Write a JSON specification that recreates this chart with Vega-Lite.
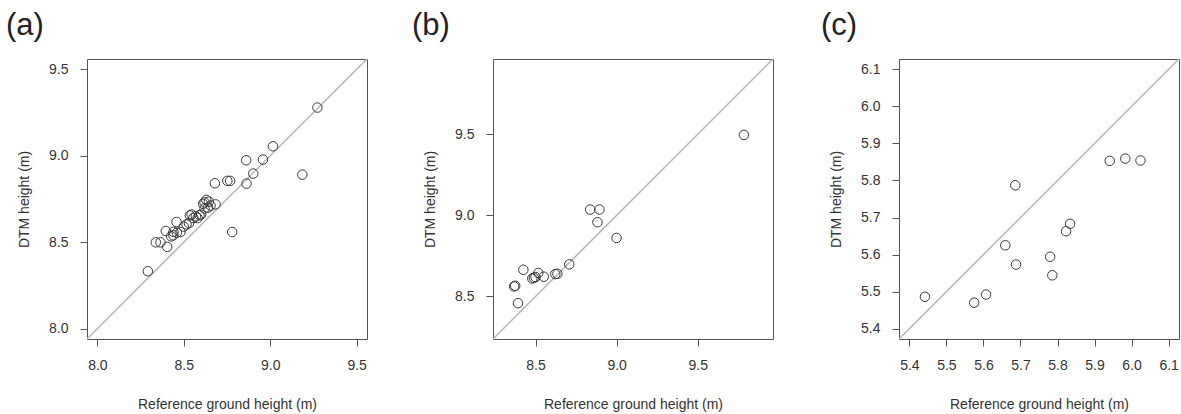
{
  "$schema": "https://vega.github.io/schema/vega-lite/v6.json",
  "autosize": {"type": "pad"},
  "padding": {"left": 5, "top": 9, "right": 0, "bottom": 0},
  "background": "white",
  "bounds": "flush",
  "spacing": 126,
  "config": {
    "font": "Liberation Sans",
    "view": {"stroke": "#555555", "strokeWidth": 1},
    "axis": {
      "domain": false,
      "grid": false,
      "tickSize": 7,
      "tickCount": 12,
      "tickColor": "#555555",
      "tickWidth": 1,
      "labelFontSize": 14,
      "titleFontSize": 14,
      "titleFontWeight": "normal",
      "labelColor": "#333333",
      "titleColor": "#333333",
      "labelPadding": 12,
      "labelFlush": false,
      "labelOverlap": false
    },
    "axisX": {"titlePadding": 25},
    "axisY": {"titlePadding": 17},
    "title": {"fontSize": 31, "fontWeight": "normal", "color": "#222222", "anchor": "start", "frame": "group", "offset": 17}
  },
  "datasets": {
    "a_pts": [
      {"ref": 9.273, "dtm": 9.279}, {"ref": 9.016, "dtm": 9.055}, {"ref": 8.958, "dtm": 8.978},
      {"ref": 8.861, "dtm": 8.974}, {"ref": 8.902, "dtm": 8.897}, {"ref": 9.186, "dtm": 8.891},
      {"ref": 8.863, "dtm": 8.839}, {"ref": 8.752, "dtm": 8.855}, {"ref": 8.768, "dtm": 8.855},
      {"ref": 8.680, "dtm": 8.841}, {"ref": 8.684, "dtm": 8.719}, {"ref": 8.780, "dtm": 8.559},
      {"ref": 8.292, "dtm": 8.332}, {"ref": 8.620, "dtm": 8.730}, {"ref": 8.630, "dtm": 8.745},
      {"ref": 8.612, "dtm": 8.722}, {"ref": 8.645, "dtm": 8.735}, {"ref": 8.655, "dtm": 8.712},
      {"ref": 8.640, "dtm": 8.700}, {"ref": 8.600, "dtm": 8.660}, {"ref": 8.591, "dtm": 8.656},
      {"ref": 8.570, "dtm": 8.650}, {"ref": 8.555, "dtm": 8.640}, {"ref": 8.545, "dtm": 8.660},
      {"ref": 8.535, "dtm": 8.655}, {"ref": 8.580, "dtm": 8.640}, {"ref": 8.516, "dtm": 8.603},
      {"ref": 8.530, "dtm": 8.610}, {"ref": 8.458, "dtm": 8.617}, {"ref": 8.481, "dtm": 8.559},
      {"ref": 8.440, "dtm": 8.560}, {"ref": 8.460, "dtm": 8.555}, {"ref": 8.396, "dtm": 8.565},
      {"ref": 8.427, "dtm": 8.534}, {"ref": 8.440, "dtm": 8.540}, {"ref": 8.338, "dtm": 8.499},
      {"ref": 8.365, "dtm": 8.499}, {"ref": 8.404, "dtm": 8.473}, {"ref": 8.500, "dtm": 8.590},
      {"ref": 8.620, "dtm": 8.695}
    ],
    "a_line": [{"ref": 7.94, "dtm": 7.94}, {"ref": 9.56, "dtm": 9.56}],
    "b_pts": [
      {"ref": 9.785, "dtm": 9.496}, {"ref": 8.837, "dtm": 9.036}, {"ref": 8.894, "dtm": 9.036},
      {"ref": 8.882, "dtm": 8.958}, {"ref": 9.000, "dtm": 8.861}, {"ref": 8.708, "dtm": 8.698},
      {"ref": 8.425, "dtm": 8.665}, {"ref": 8.517, "dtm": 8.645}, {"ref": 8.551, "dtm": 8.622},
      {"ref": 8.480, "dtm": 8.611}, {"ref": 8.490, "dtm": 8.615}, {"ref": 8.500, "dtm": 8.620},
      {"ref": 8.622, "dtm": 8.638}, {"ref": 8.635, "dtm": 8.640}, {"ref": 8.368, "dtm": 8.562},
      {"ref": 8.375, "dtm": 8.566}, {"ref": 8.392, "dtm": 8.459}
    ],
    "b_line": [{"ref": 8.238, "dtm": 8.238}, {"ref": 9.964, "dtm": 9.964}],
    "c_pts": [
      {"ref": 5.442, "dtm": 5.486}, {"ref": 5.575, "dtm": 5.470}, {"ref": 5.607, "dtm": 5.492},
      {"ref": 5.659, "dtm": 5.625}, {"ref": 5.686, "dtm": 5.787}, {"ref": 5.688, "dtm": 5.573},
      {"ref": 5.780, "dtm": 5.594}, {"ref": 5.786, "dtm": 5.544}, {"ref": 5.823, "dtm": 5.663},
      {"ref": 5.834, "dtm": 5.683}, {"ref": 5.941, "dtm": 5.853}, {"ref": 5.983, "dtm": 5.859},
      {"ref": 6.024, "dtm": 5.854}
    ],
    "c_line": [{"ref": 5.372, "dtm": 5.372}, {"ref": 6.128, "dtm": 6.128}]
  },
  "hconcat": [
    {
      "width": 280, "height": 280,
      "title": {"text": "(a)", "dx": -81},
      "layer": [
        {
          "data": {"name": "a_line"},
          "mark": {"type": "line", "color": "#b4b4b4", "strokeWidth": 1.5, "clip": true},
          "encoding": {
            "x": {"field": "ref", "type": "quantitative", "scale": {"domain": [7.94, 9.56], "nice": false, "zero": false},
                  "axis": {"title": "Reference ground height (m)", "values": [8.0, 8.5, 9.0, 9.5], "format": ".1f"}},
            "y": {"field": "dtm", "type": "quantitative", "scale": {"domain": [7.94, 9.56], "nice": false, "zero": false},
                  "axis": {"title": "DTM height (m)", "values": [8.0, 8.5, 9.0, 9.5], "format": ".1f"}}
          }
        },
        {
          "data": {"name": "a_pts"},
          "mark": {"type": "point", "shape": "circle", "filled": false, "stroke": "#3a3a3a", "strokeWidth": 1, "size": 90, "opacity": 1},
          "encoding": {
            "x": {"field": "ref", "type": "quantitative"},
            "y": {"field": "dtm", "type": "quantitative"}
          }
        }
      ]
    },
    {
      "width": 280, "height": 280,
      "title": {"text": "(b)", "dx": -81},
      "layer": [
        {
          "data": {"name": "b_line"},
          "mark": {"type": "line", "color": "#b4b4b4", "strokeWidth": 1.5, "clip": true},
          "encoding": {
            "x": {"field": "ref", "type": "quantitative", "scale": {"domain": [8.238, 9.964], "nice": false, "zero": false},
                  "axis": {"title": "Reference ground height (m)", "values": [8.5, 9.0, 9.5], "format": ".1f"}},
            "y": {"field": "dtm", "type": "quantitative", "scale": {"domain": [8.238, 9.964], "nice": false, "zero": false},
                  "axis": {"title": "DTM height (m)", "values": [8.5, 9.0, 9.5], "format": ".1f"}}
          }
        },
        {
          "data": {"name": "b_pts"},
          "mark": {"type": "point", "shape": "circle", "filled": false, "stroke": "#3a3a3a", "strokeWidth": 1, "size": 90, "opacity": 1},
          "encoding": {
            "x": {"field": "ref", "type": "quantitative"},
            "y": {"field": "dtm", "type": "quantitative"}
          }
        }
      ]
    },
    {
      "width": 280, "height": 280,
      "title": {"text": "(c)", "dx": -78},
      "layer": [
        {
          "data": {"name": "c_line"},
          "mark": {"type": "line", "color": "#b4b4b4", "strokeWidth": 1.5, "clip": true},
          "encoding": {
            "x": {"field": "ref", "type": "quantitative", "scale": {"domain": [5.372, 6.128], "nice": false, "zero": false},
                  "axis": {"title": "Reference ground height (m)", "values": [5.4, 5.5, 5.6, 5.7, 5.8, 5.9, 6.0, 6.1], "format": ".1f"}},
            "y": {"field": "dtm", "type": "quantitative", "scale": {"domain": [5.372, 6.128], "nice": false, "zero": false},
                  "axis": {"title": "DTM height (m)", "values": [5.4, 5.5, 5.6, 5.7, 5.8, 5.9, 6.0, 6.1], "format": ".1f"}}
          }
        },
        {
          "data": {"name": "c_pts"},
          "mark": {"type": "point", "shape": "circle", "filled": false, "stroke": "#3a3a3a", "strokeWidth": 1, "size": 90, "opacity": 1},
          "encoding": {
            "x": {"field": "ref", "type": "quantitative"},
            "y": {"field": "dtm", "type": "quantitative"}
          }
        }
      ]
    }
  ]
}
